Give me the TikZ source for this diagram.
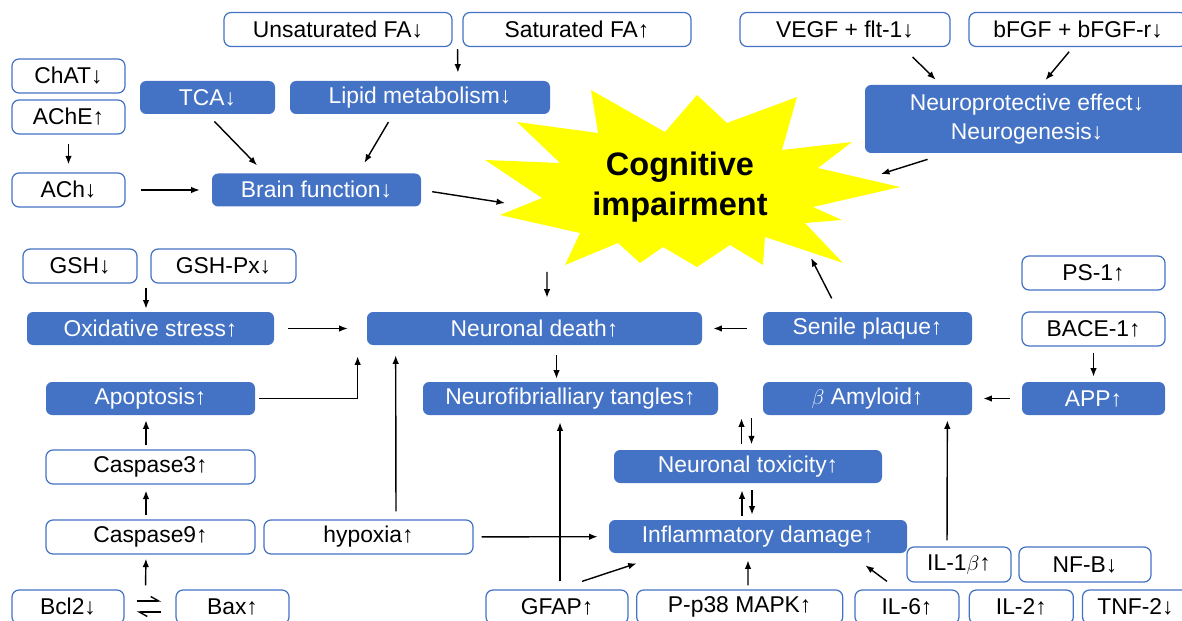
\documentclass[tikz,border=0pt]{standalone}
\usepackage{fontspec}
\setmainfont{Liberation Sans}
\usepackage{tikz}
\usetikzlibrary{arrows.meta,calc}
\definecolor{boxblue}{HTML}{4472C4}
\definecolor{burst}{HTML}{FFFF00}

\begin{document}
\begin{tikzpicture}[
  x=0.02cm, y=-0.02cm,
  bw/.style={minimum width=#1*0.02cm},
  bh/.style={minimum height=#1*0.02cm},
  wb/.style={draw=boxblue, line width=0.7pt, fill=white, rounded corners=4pt, inner sep=0pt, bh=34, font=\fontsize{13}{16}\selectfont},
  bb/.style={fill=boxblue, text=white, rounded corners=3.5pt, inner sep=0pt, bh=33, font=\fontsize{13}{16.5}\selectfont},
  arr/.style={-{Latex[length=1.7mm,width=1.3mm]}, line width=0.8pt},
  harp/.style={-{Straight Barb[harpoon,length=1.6mm,width=1.8mm]}, line width=0.8pt},
  gap/.style 2 args={shorten <=#1*0.02cm, shorten >=#2*0.02cm}
]
\useasboundingbox (0,0) rectangle (1182,621);

% the burst
\fill[burst] (485,160) -- (560,163) -- (517,122) -- (598,133) -- (591,90) -- (665,132)
  -- (697,95) -- (727,123) -- (797,97) -- (782,150) -- (852,142) -- (818,168)
  -- (900,187) -- (813,207) -- (842,220) -- (805,223) -- (843,263) -- (765,237)
  -- (763,265) -- (730,245) -- (697,267) -- (663,247) -- (640,263) -- (618,243)
  -- (565,265) -- (580,233) -- (500,215) -- (542,198) -- cycle;
\node[font=\fontsize{18.5}{22.7}\selectfont\bfseries, align=center] (cog) at (680,187) {Cognitive\\impairment};
\coordinate (s1) at (505,203);
\coordinate (s2) at (881,174);
\coordinate (s3) at (547,272);
\coordinate (s4) at (811,258);

\node[wb, bw=228] (ufa) at (338,29.5) {Unsaturated FA↓};
\node[wb, bw=228] (sfa) at (577,29.5) {Saturated FA↑};
\node[wb, bw=210] (vegf) at (845,29.5) {VEGF + flt-1↓};
\node[wb, bw=218] (bfgf) at (1078,29.5) {bFGF + bFGF-r↓};
\node[wb, bw=113] (chat) at (68.5,76) {ChAT↓};
\node[wb, bw=113] (ache) at (68.5,117) {AChE↑};
\node[bb, bw=135] (tca) at (207.5,97.5) {TCA↓};
\node[bb, bw=260] (lipid) at (420,97.5) {Lipid metabolism↓};
\node[bb, bw=324, bh=68, align=center] (neuro) at (1027,119) {Neuroprotective effect↓\\Neurogenesis↓};
\node[wb, bw=113] (ach) at (68.5,190) {ACh↓};
\node[bb, bw=209] (brain) at (316.5,190) {Brain function↓};

\node[wb, bw=114] (gsh) at (80,266) {GSH↓};
\node[wb, bw=145] (gshpx) at (223.5,266) {GSH-Px↓};
\node[bb, bw=247] (oxi) at (150.5,328.5) {Oxidative stress↑};
\node[bb, bw=335] (death) at (534.5,328.5) {Neuronal death↑};
\node[bb, bw=209] (senile) at (867.5,328.5) {Senile plaque↑};
\node[wb, bw=143] (ps1) at (1093.5,273) {PS-1↑};
\node[wb, bw=143] (bace) at (1093.5,329) {BACE-1↑};
\node[bb, bw=209] (apop) at (150.5,398.5) {Apoptosis↑};
\node[bb, bw=295] (tangle) at (570.5,398.5) {Neurofibrialliary tangles↑};
\node[bb, bw=209] (amyl) at (867.5,398.5) {$\beta$ Amyloid↑};
\node[bb, bw=143] (app) at (1093.5,398.5) {APP↑};
\node[wb, bw=209] (casp3) at (150.5,467) {Caspase3↑};
\node[bb, bw=268] (tox) at (748,466.5) {Neuronal toxicity↑};
\node[wb, bw=209] (casp9) at (150.5,537) {Caspase9↑};
\node[wb, bw=209] (hyp) at (368.5,537) {hypoxia↑};
\node[bb, bw=298] (infl) at (758,536.5) {Inflammatory damage↑};
\node[wb, bw=104, bh=35] (il1b) at (959,564.5) {IL-1$\beta$↑};
\node[wb, bw=132, bh=35] (nfb) at (1085,564.5) {NF-B↓};
\node[wb, bw=112] (bcl2) at (68,607) {Bcl2↓};
\node[wb, bw=113] (bax) at (232.5,607) {Bax↑};
\node[wb, bw=142] (gfap) at (557,607) {GFAP↑};
\node[wb, bw=206] (p38) at (739.7,607) {P-p38 MAPK↑};
\node[wb, bw=104] (il6) at (907,607) {IL-6↑};
\node[wb, bw=104] (il2) at (1021.3,607) {IL-2↑};
\node[wb, bw=106] (tnf) at (1135.5,607) {TNF-2↓};

\coordinate (tm) at ($(tangle.south east)!.5!(amyl.south west)$);

\draw[arr, gap={2}{8}] ($(ufa.south east)!.5!(sfa.south west)$) -- ($(lipid.north)+(38,0)$);
\draw[arr, gap={9}{8}] (ache) -- (ach);
\draw[arr, gap={15}{12}] (ach) -- (brain);
\draw[arr, gap={10}{11}] (tca.south) -- ($(brain.north west)+(53,0)$);
\draw[arr, gap={9}{12}] ($(lipid.south)+(-27,0)$) -- ($(brain.north east)+(-63,0)$);
\draw[arr, gap={11}{0}] (brain.east) -- (s1);
\draw[arr, gap={14}{7}] ($(vegf.south east)+(-48,0)$) -- ($(neuro.north west)+(76,0)$);
\draw[arr, gap={6}{6}] ($(bfgf.south)+(-5,0)$) -- ($(neuro.north west)+(177,0)$);
\draw[arr, gap={20}{0}] ($(neuro.south west)+(82,0)$) -- (s2);
\draw[arr, gap={0}{14}] (s3) -- ($(death.north)+(12.5,0)$);

\draw[arr, gap={4}{3}] ($(gsh.south east)!.5!(gshpx.south west)+(2,0)$) -- ($(oxi.north)+(-4.5,0)$);
\draw[arr, gap={14}{19}] (oxi) -- (death);
\draw[arr, gap={4}{11}] (apop.east) -| ($(death.south west)+(-9,0)$);
\draw[arr, gap={8}{10}] ($(hyp.north)+(27.5,0)$) -- ($(death.south west)+(29,0)$);
\draw[arr, gap={8}{11}] (hyp) -- (infl);
\draw[arr, gap={4}{6}] ($(casp9.north)+(-4.5,0)$) -- ($(casp3.south)+(-4.5,0)$);
\draw[arr, gap={4}{5}] ($(casp3.north)+(-4.5,0)$) -- ($(apop.south)+(-4.5,0)$);
\draw[arr, gap={4}{4}] ($(bcl2.north east)!.5!(bax.north west)+(-4.5,0)$) -- ($(casp9.south)+(-4.5,0)$);
\draw[harp, gap={12}{14}] ($(bcl2.east)+(0,-6)$) -- ($(bax.west)+(0,-6)$);
\draw[harp, gap={14}{12}] ($(bax.west)+(0,5)$) -- ($(bcl2.east)+(0,5)$);

\draw[arr, gap={10}{3}] ($(death.south)+(22,0)$) -- ($(tangle.north)+(-14,0)$);
\draw[arr, gap={16}{11}] (senile) -- (death);
\draw[arr, gap={15}{0}] ($(senile.north)+(-29,0)$) -- (s4);
\draw[arr, gap={6}{5}] (bace) -- (app);
\draw[arr, gap={12}{11}] (app) -- (amyl);
\draw[arr, gap={6}{3}] ($(tm)+(1,35)$) -- ($(tm)+(1,0)$);
\draw[arr, gap={3}{6}] ($(tm)+(11,0)$) -- ($(tm)+(11,35)$);
\draw[arr, gap={4}{7}] ($(infl.north)+(-16,0)$) -- ($(tox.south)+(-6,0)$);
\draw[arr, gap={7}{5}] ($(tox.south)+(4,0)$) -- ($(infl.north)+(-6,0)$);
\draw[arr, gap={8}{7}] ($(gfap.north)+(3,0)$) -- ($(tangle.south)+(-10.5,0)$);
\draw[arr] ($(gfap.north)+(25,-8)$) -- ($(infl.south west)+(28,10)$);
\draw[arr, gap={4}{7}] ($(p38.north)+(8.3,0)$) -- ($(infl.south)+(-10,0)$);
\draw[arr] ($(il6.north)+(-20,-8)$) -- ($(infl.south east)+(-42,12)$);
\draw[arr, gap={6}{5}] ($(il1b.north)+(-12,0)$) -- ($(amyl.south east)+(-25,0)$);
\end{tikzpicture}
\end{document}
